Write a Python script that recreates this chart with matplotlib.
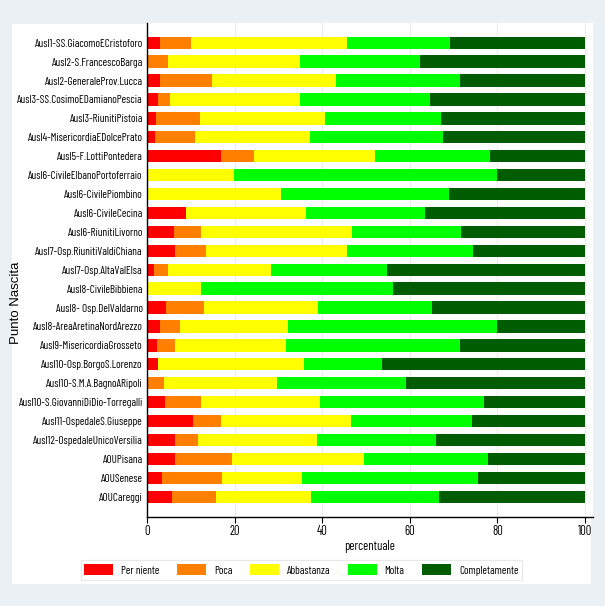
import matplotlib
matplotlib.use("Agg")
import matplotlib.pyplot as plt
from matplotlib.patches import Rectangle, Patch
import numpy as np

categories = [
    "Ausl1-SS.GiacomoECristoforo",
    "Ausl2-S.FrancescoBarga",
    "Ausl2-GeneraleProv.Lucca",
    "Ausl3-SS.CosimoEDamianoPescia",
    "Ausl3-RiunitiPistoia",
    "Ausl4-MisericordiaEDolcePrato",
    "Ausl5-F.LottiPontedera",
    "Ausl6-CivileElbanoPortoferraio",
    "Ausl6-CivilePiombino",
    "Ausl6-CivileCecina",
    "Ausl6-RiunitiLivorno",
    "Ausl7-Osp.RiunitiValdiChiana",
    "Ausl7-Osp.AltaValElsa",
    "Ausl8-CivileBibbiena",
    "Ausl8- Osp.DelValdarno",
    "Ausl8-AreaAretinaNordArezzo",
    "Ausl9-MisericordiaGrosseto",
    "Ausl10-Osp.BorgoS.Lorenzo",
    "Ausl10-S.M.A.BagnoARipoli",
    "Ausl10-S.GiovanniDiDio-Torregalli",
    "Ausl11-OspedaleS.Giuseppe",
    "Ausl12-OspedaleUnicoVersilia",
    "AOUPisana",
    "AOUSenese",
    "AOUCareggi",
]

per_niente = [2.9, 0.0, 2.9, 2.4, 2.0, 1.8, 16.8, 0.0, 0.0, 8.8, 6.1, 6.5, 1.5, 0.0, 4.3,
              2.9, 2.2, 2.4, 0.0, 4.0, 10.4, 6.3, 6.3, 3.4, 5.6]
poca = [7.1, 4.7, 11.9, 2.8, 10.0, 9.1, 7.6, 0.0, 0.0, 0.0, 6.2, 6.9, 3.2, 0.0, 8.6,
        4.6, 4.3, 0.0, 3.8, 8.3, 6.4, 5.3, 13.0, 13.7, 10.1]
abbastanza = [35.6, 30.2, 28.3, 29.7, 28.6, 26.3, 27.6, 19.8, 30.5, 27.5, 34.5, 32.2, 23.6, 12.3, 26.1,
              24.6, 25.2, 33.4, 25.8, 27.1, 29.7, 27.2, 30.2, 18.2, 21.7]
molta = [23.6, 27.4, 28.3, 29.7, 26.5, 30.4, 26.3, 60.1, 38.4, 27.1, 24.9, 28.8, 26.5, 43.8, 26.0,
         47.8, 39.7, 17.8, 29.5, 37.5, 27.7, 27.2, 28.3, 40.2, 29.2]
completamente = [30.8, 37.7, 28.6, 35.4, 32.9, 32.4, 21.7, 20.1, 31.1, 36.6, 28.3, 25.6, 45.2, 43.9, 35.0,
                 20.1, 28.6, 46.4, 40.9, 23.1, 25.8, 34.0, 22.2, 24.5, 33.4]

series_names = ["Per niente", "Poca", "Abbastanza", "Molta", "Completamente"]
series_colors = ["#ff0000", "#ff8000", "#ffff00", "#00ff00", "#005c00"]
xticks = [0, 20, 40, 60, 80, 100]

NARROW = ["Barlow Condensed", "Roboto Condensed", "Liberation Sans", "DejaVu Sans"]
W, H = 605, 606
fig = plt.figure(figsize=(W / 100, H / 100), dpi=100, facecolor="#eaf0f3")

# white inner panel
fig.patches.append(Rectangle((12 / W, 1 - 584 / H), 579 / W, 560 / H,
                             transform=fig.transFigure, facecolor="white",
                             edgecolor="none", zorder=-10))

ax = fig.add_axes([147 / W, 1 - 517 / H, (593 - 147) / W, (517 - 23) / H])
ax.set_facecolor("white")

y = np.arange(len(categories))
data = [per_niente, poca, abbastanza, molta, completamente]
left = np.zeros(len(categories))
for vals, col, name in zip(data, series_colors, series_names):
    v = np.array(vals)
    ax.barh(y, v, left=left, height=0.65, color=col, edgecolor="none", label=name, zorder=2)
    left += v

ax.set_ylim(len(categories) - 1 + 1.07, -1.04)
ax.set_xlim(0, 100 * 446 / 438)
ax.set_yticks(y)
ax.set_yticklabels(categories, family=NARROW, fontsize=8)
ax.tick_params(axis="y", length=0, pad=3)
ax.set_xticks(xticks)
ax.set_xticklabels([str(t) for t in xticks], family=NARROW, fontsize=9)
ax.tick_params(axis="x", length=4, width=0.8, pad=2)
ax.grid(axis="x", color="#ececec", linewidth=0.8, zorder=0)
ax.set_axisbelow(True)
for s in ["top", "right"]:
    ax.spines[s].set_visible(False)
for s in ["left", "bottom"]:
    ax.spines[s].set_linewidth(1.0)
    ax.spines[s].set_color("black")

ax.set_xlabel("percentuale", family=NARROW, fontsize=9, labelpad=1)
fig.text(16 / W, 1 - 303 / H, "Punto Nascita", rotation=90, ha="center", va="center",
         family=["Liberation Sans", "DejaVu Sans"], fontsize=9.5)

handles = [Patch(facecolor=c, edgecolor="none") for c in series_colors]
leg = fig.legend(handles, series_names, loc="center", bbox_to_anchor=(301.5 / W, 1 - 570 / H),
                 ncol=5, prop={"family": NARROW, "size": 8}, frameon=True, fancybox=False,
                 handlelength=2.6, handleheight=1.15, handletextpad=0.7, columnspacing=1.6,
                 borderpad=0.35, borderaxespad=0)
leg.get_frame().set_edgecolor("#e3e3e3")
leg.get_frame().set_linewidth(0.8)

fig.savefig("out.png", dpi=100, facecolor=fig.get_facecolor())
